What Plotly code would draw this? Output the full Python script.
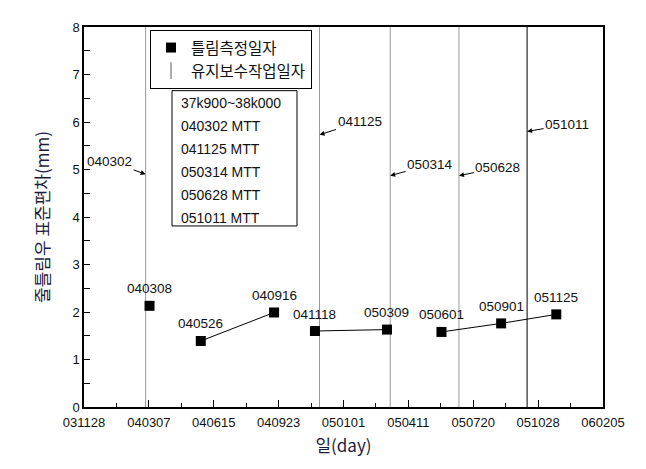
import plotly.graph_objects as go
from datetime import datetime

# ---- data ----
meas_dates = ["040308", "040526", "040916", "041118", "050309", "050601", "050901", "051125"]
meas_values = [2.13, 1.39, 1.99, 1.60, 1.63, 1.58, 1.76, 1.95]
meas_groups = [0, 1, 1, 2, 2, 3, 3, 3]  # points joined by a line share a group
maint_dates = ["040302", "041125", "050314", "050628", "051011"]
maint_arrow_y = [4.9, 5.73, 4.87, 4.87, 5.8]
info_lines = ["37k900~38k000", "040302 MTT", "041125 MTT", "050314 MTT", "050628 MTT", "051011 MTT"]


def d(s):
    return datetime.strptime(s, "%y%m%d").strftime("%Y-%m-%d")


NUM = "Liberation Sans, Arial, sans-serif"
KR = "Noto Sans CJK KR, sans-serif"
DAY = 86400000

# page has an 8px body margin; plot area targets x 84..603, y 25..407 in the window
L, R, T, B = 76, 43, 17, 62
W, H = 638, 461
PW, PH = W - L - R, H - T - B


def px(x):
    return (x - 8 - L) / PW


def py(y):
    return (H + 8 - B - y) / PH


fig = go.Figure()

# maintenance vertical lines
lx, ly = [], []
for s in maint_dates[:-1]:
    lx += [d(s), d(s), None]
    ly += [0, 8, None]
fig.add_trace(go.Scatter(x=lx, y=ly, mode="lines", line=dict(color="#999999", width=1),
                         showlegend=False, hoverinfo="skip"))
fig.add_trace(go.Scatter(x=[d(maint_dates[-1])] * 2, y=[0, 8], mode="lines",
                         line=dict(color="black", width=1), showlegend=False, hoverinfo="skip"))

# connecting lines
cx, cy = [], []
prev = None
for s, v, g in zip(meas_dates, meas_values, meas_groups):
    if prev is not None and g != prev:
        cx.append(None)
        cy.append(None)
    cx.append(d(s))
    cy.append(v)
    prev = g
fig.add_trace(go.Scatter(x=cx, y=cy, mode="lines", line=dict(color="black", width=1),
                         showlegend=False, hoverinfo="skip", connectgaps=False))

# measurement markers
fig.add_trace(go.Scatter(x=[d(s) for s in meas_dates], y=meas_values, mode="markers",
                         marker=dict(symbol="square", size=10, color="black"),
                         name="틀림측정일자"))
# legend-only entry for maintenance
fig.add_trace(go.Scatter(x=[None], y=[None], mode="markers",
                         marker=dict(symbol="line-ns", size=12, color="#777777",
                                     line=dict(width=1.2, color="#777777")),
                         name="유지보수작업일자"))

# point labels
for s, v in zip(meas_dates, meas_values):
    fig.add_annotation(x=d(s), y=v, text=s, showarrow=False, yshift=17,
                       font=dict(family=NUM, size=13.5, color="#111111"))

# arrow labels for maintenance dates
offsets = [(-36, -13), (40, -13), (40, -11), (39, -8), (40, -7)]
for s, ay_v, (ax, ay) in zip(maint_dates, maint_arrow_y, offsets):
    fig.add_annotation(x=d(s), y=ay_v, text=s, showarrow=True, arrowhead=2, arrowsize=1,
                       arrowwidth=1, arrowcolor="black", ax=ax, ay=ay, standoff=0,
                       font=dict(family=NUM, size=13.5, color="#111111"))

# info box
fig.add_shape(type="rect", xref="paper", yref="paper", x0=px(172), x1=px(297),
              y0=py(225), y1=py(89), line=dict(color="black", width=1))
for i, t in enumerate(info_lines):
    yp = 101 + i * 23.2
    fig.add_annotation(xref="paper", yref="paper", x=px(179), y=py(yp),
                       text=t, showarrow=False, xanchor="left", yanchor="middle",
                       font=dict(family=NUM, size=14, color="#111111"))

fig.update_layout(
    width=W, height=H,
    margin=dict(l=L, r=R, t=T, b=B),
    paper_bgcolor="white", plot_bgcolor="white",
    showlegend=True,
    legend=dict(x=px(150), y=py(28), xanchor="left", yanchor="top",
                bordercolor="black", borderwidth=1, bgcolor="white",
                font=dict(family=KR, size=15.5, color="#111111"), itemwidth=30),
    xaxis=dict(type="date", range=[d("031128"), d("060205")], tick0=d("031128"),
               dtick=100 * DAY, tickformat="%y%m%d", ticks="inside", ticklen=7,
               tickcolor="black", showline=True, linecolor="black", linewidth=1.5,
               mirror=True, showgrid=False, zeroline=False, ticklabelstandoff=3,
               minor=dict(dtick=50 * DAY, tick0=d("031128"), ticks="inside", ticklen=4,
                          tickcolor="black", showgrid=False),
               tickfont=dict(family=NUM, size=13, color="#111111"),
               title=dict(text="일(day)", font=dict(family=KR, size=17, color="#1c1c40"),
                          standoff=11)),
    yaxis=dict(range=[0, 8], dtick=1, ticks="inside", ticklen=6, tickcolor="black",
               showline=True, linecolor="black", linewidth=1.5, mirror=True,
               showgrid=False, zeroline=False,
               minor=dict(dtick=0.5, ticks="inside", ticklen=6, tickcolor="black",
                          showgrid=False),
               tickfont=dict(family=NUM, size=13, color="#111111"),
               title=dict(text="줄틀림우 표준편차(mm)", font=dict(family=KR, size=17, color="#1c1c40"),
                          standoff=18)),
)

fig.write_html("out.html")
